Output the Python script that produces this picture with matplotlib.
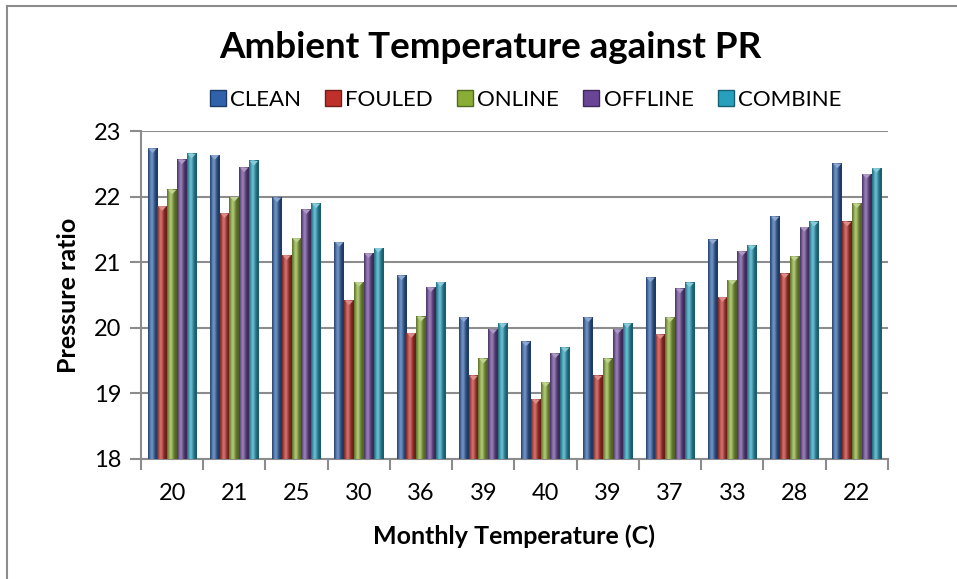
import numpy as np
import matplotlib
matplotlib.use("Agg")
import matplotlib.pyplot as plt
from matplotlib.colors import to_rgb
from matplotlib.lines import Line2D
from matplotlib.patches import Polygon

plt.rcParams['font.family'] = ['Lato', 'DejaVu Sans']

months = ['20', '21', '25', '30', '36', '39', '40', '39', '37', '33', '28', '22']
series = ['CLEAN', 'FOULED', 'ONLINE', 'OFFLINE', 'COMBINE']
clean   = [22.74, 22.64, 21.99, 21.31, 20.80, 20.16, 19.79, 20.16, 20.77, 21.35, 21.70, 22.51]
fouled  = [21.86, 21.75, 21.11, 20.42, 19.92, 19.27, 18.91, 19.27, 19.90, 20.47, 20.83, 21.62]
online  = [22.11, 22.00, 21.37, 20.70, 20.17, 19.53, 19.17, 19.53, 20.16, 20.73, 21.09, 21.90]
offline = [22.57, 22.45, 21.81, 21.14, 20.62, 19.98, 19.61, 19.98, 20.60, 21.17, 21.54, 22.35]
combine = [22.66, 22.55, 21.90, 21.22, 20.70, 20.07, 19.70, 20.07, 20.69, 21.26, 21.62, 22.44]
values = [clean, fouled, online, offline, combine]
colors = ['#2f62ab', '#bf302b', '#8aad35', '#6a4596', '#26a0bd']

fig = plt.figure(figsize=(9.57, 5.79), dpi=100)
ax = fig.add_axes([0.1473, 0.2073, 0.7806, 0.5656])

ymin, ymax = 18, 23
bw = 0.157
x = np.arange(len(months))


def shade(c, n=32):
    # cylinder-like horizontal gradient: dark edges, light band left of centre
    c = np.array(to_rgb(c))
    t = np.linspace(0, 1, n)
    k = np.exp(-((t - 0.38) / 0.28) ** 2)
    dark = c * 0.58
    light = c + (1 - c) * 0.3
    g = dark[None, :] * (1 - k[:, None]) + light[None, :] * k[:, None]
    return g[None, :, :]


for i, (vals, col) in enumerate(zip(values, colors)):
    img = shade(col)
    tipc = np.array(to_rgb(col)) + (1 - np.array(to_rgb(col))) * 0.45
    for xi, v in zip(x, vals):
        x0 = xi - 2.5 * bw + i * bw
        x1 = x0 + bw
        ax.imshow(img, extent=[x0, x1, ymin, v], aspect='auto',
                  interpolation='bilinear', zorder=3)
        ax.add_patch(Polygon([[x0 + 0.01, v], [x1 - 0.01, v],
                              [(x0 + x1) / 2, v - 0.07]],
                             closed=True, color=tipc, lw=0, zorder=4))

ax.set_xlim(-0.5, len(months) - 0.5)
ax.set_ylim(ymin, ymax)
ax.set_yticks(np.arange(18, 24))
ax.set_xticks(x)
ax.set_xticklabels(months)
ax.set_xticks(np.arange(-0.5, len(months)), minor=True)
ax.tick_params(axis='x', which='major', length=0, pad=17, labelsize=17)
ax.tick_params(axis='x', which='minor', length=8, width=1.5, color='#8c8c8c')
ax.tick_params(axis='y', length=8, width=1.5, color='#8c8c8c', labelsize=17, pad=6)
ax.grid(axis='y', color='#8c8c8c', lw=1.5, zorder=0)
ax.set_axisbelow(True)
for s in ['top', 'right']:
    ax.spines[s].set_visible(False)
for s in ['left', 'bottom']:
    ax.spines[s].set_color('#8c8c8c')
    ax.spines[s].set_linewidth(1.5)

ax.set_xlabel('Monthly Temperature (C)', fontsize=18, fontweight='bold', labelpad=15)
ax.set_ylabel('Pressure ratio', fontsize=18, fontweight='bold', labelpad=10)

fig.text(0.512, 0.918, 'Ambient Temperature against PR', ha='center', va='center',
         fontsize=26.5, fontweight='bold')

handles = [Line2D([], [], ls='none', marker='s', markersize=11, markerfacecolor=c,
                  markeredgecolor=np.array(to_rgb(c)) * 0.6) for c in colors]
fig.legend(handles, series, loc='center', bbox_to_anchor=(0.548, 0.827), ncol=5,
           frameon=False, fontsize=16, handletextpad=0.1, columnspacing=1.0,
           handlelength=0.9)

# chart area border
fig.add_artist(Line2D([7 / 957, 7 / 957], [0, 1 - 6 / 579], color='#8c8c8c', lw=1.5))
fig.add_artist(Line2D([7 / 957, 1], [1 - 6 / 579, 1 - 6 / 579], color='#8c8c8c', lw=1.5))

fig.savefig('out.png', dpi=100)
